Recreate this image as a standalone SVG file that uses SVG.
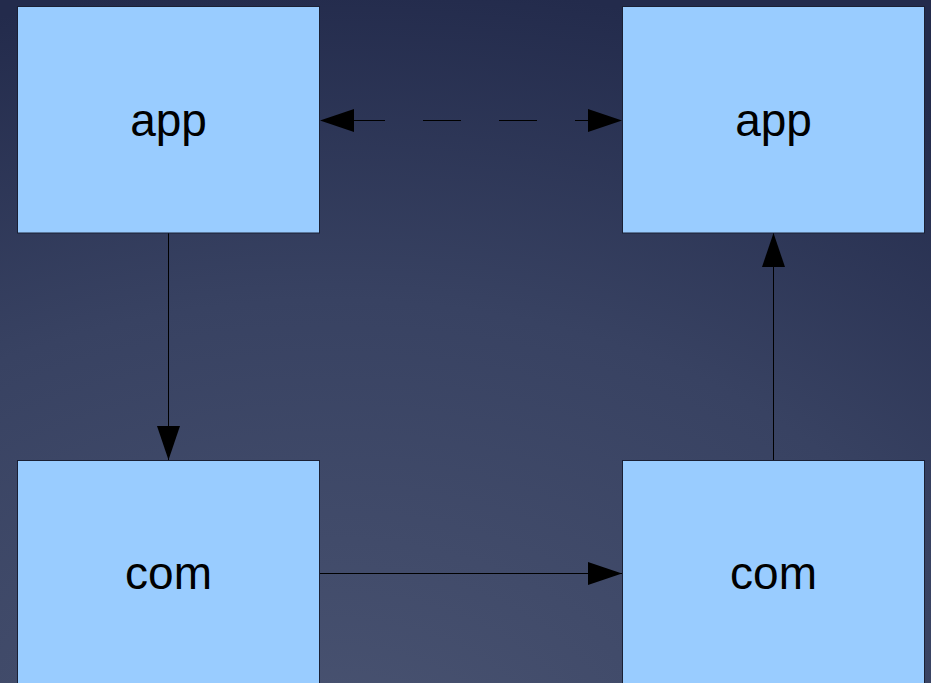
<svg xmlns="http://www.w3.org/2000/svg" width="931" height="683" viewBox="0 0 931 683">
  <defs>
    <radialGradient id="bg" cx="0" cy="0" r="800" gradientUnits="userSpaceOnUse" gradientTransform="translate(330,780) scale(1.4,1)">
      <stop offset="0" stop-color="#4a5472"/>
      <stop offset="0.6" stop-color="#384262"/>
      <stop offset="1" stop-color="#232b4c"/>
    </radialGradient>
    <marker id="head" viewBox="0 0 34 23" refX="34" refY="11.5" markerWidth="34" markerHeight="23" markerUnits="userSpaceOnUse" orient="auto-start-reverse">
      <path d="M0,0 L34,11.5 L0,23 Z" fill="#000"/>
    </marker>
    <style>
      .box { fill: #99ccff; stroke: #1a2035; stroke-width: 1; }
      .label { font-family: "Liberation Sans", Arial, sans-serif; font-size: 46px; fill: #000; text-anchor: middle; }
      .edge { stroke: #000; stroke-width: 1; fill: none; }
      .dashed { stroke-dasharray: 38 38; stroke-dashoffset: 49; }
    </style>
  </defs>

  <rect width="931" height="683" fill="url(#bg)"/>

  <g id="edges">
    <line class="edge dashed" x1="320" y1="120.5" x2="622" y2="120.5" marker-start="url(#head)" marker-end="url(#head)"/>
    <line class="edge" x1="168.5" y1="233" x2="168.5" y2="460" marker-end="url(#head)"/>
    <line class="edge" x1="320" y1="573.5" x2="622" y2="573.5" marker-end="url(#head)"/>
    <line class="edge" x1="773.5" y1="460" x2="773.5" y2="233" marker-end="url(#head)"/>
  </g>

  <g id="app-left">
    <rect class="box" x="17.5" y="6.5" width="302" height="226.5"/>
    <text class="label" x="168.5" y="136">app</text>
  </g>
  <g id="app-right">
    <rect class="box" x="622.5" y="6.5" width="302" height="226.5"/>
    <text class="label" x="773.5" y="136">app</text>
  </g>
  <g id="com-left">
    <rect class="box" x="17.5" y="460.5" width="302" height="240"/>
    <text class="label" x="168.5" y="589">com</text>
  </g>
  <g id="com-right">
    <rect class="box" x="622.5" y="460.5" width="302" height="240"/>
    <text class="label" x="773.5" y="589">com</text>
  </g>
</svg>
